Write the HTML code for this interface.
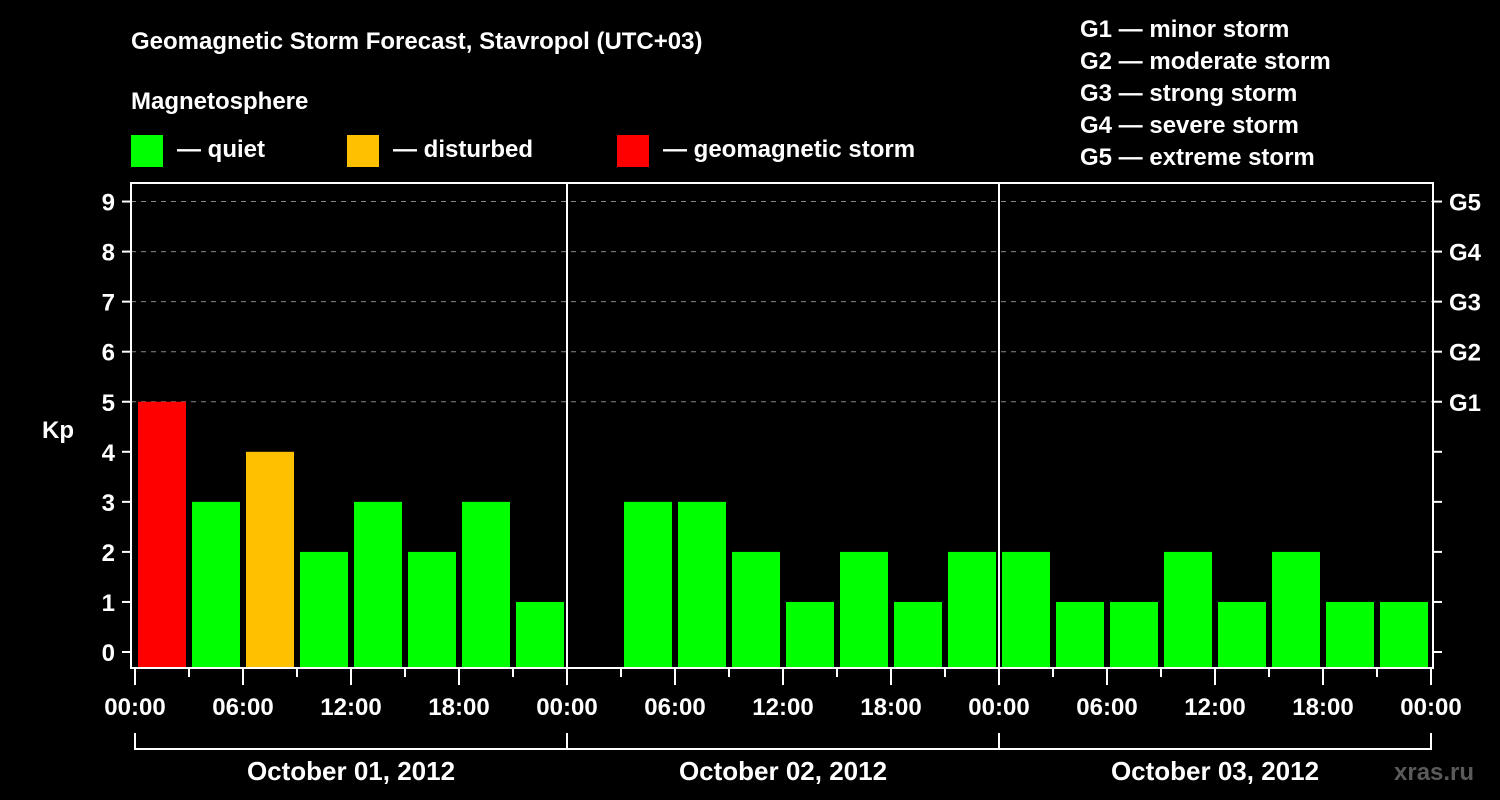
<!DOCTYPE html>
<html><head><meta charset="utf-8"><style>
html,body{margin:0;padding:0;background:#000;width:1500px;height:800px;overflow:hidden}
svg text{font-family:"Liberation Sans",Arial,sans-serif;font-weight:bold;fill:#fff}
</style></head><body>
<svg id="chart" width="1500" height="800" viewBox="0 0 1500 800">
<text x="131" y="49" font-size="24">Geomagnetic Storm Forecast, Stavropol (UTC+03)</text>
<text x="131" y="109" font-size="24">Magnetosphere</text>
<g>
<rect x="131" y="135" width="32" height="32" fill="#00ff00"/>
<text x="177" y="157" font-size="24">— quiet</text>
<rect x="347" y="135" width="32" height="32" fill="#ffc000"/>
<text x="393" y="157" font-size="24">— disturbed</text>
<rect x="617" y="135" width="32" height="32" fill="#ff0000"/>
<text x="663" y="157" font-size="24">— geomagnetic storm</text>
</g>
<g font-size="24">
<text x="1080" y="37">G1 — minor storm</text>
<text x="1080" y="69">G2 — moderate storm</text>
<text x="1080" y="101">G3 — strong storm</text>
<text x="1080" y="133">G4 — severe storm</text>
<text x="1080" y="165">G5 — extreme storm</text>
</g>
<text x="42" y="438" font-size="24">Kp</text>
<g id="grid"></g><g id="bars"></g><g id="axes"></g>
<text x="1394" y="780" font-size="24" fill="#555" style="fill:#5a5a5a">xras.ru</text>
</svg>
<script>
const days = ["October 01, 2012","October 02, 2012","October 03, 2012"];
const kpDay1 = [5,3,4,2,3,2,3,1];
const kpDay2 = [0,3,3,2,1,2,1,2];
const kpDay3 = [2,1,1,2,1,2,1,1];
const yTicks = [0,1,2,3,4,5,6,7,8,9];
const gLabels = ["G1","G2","G3","G4","G5"];
const xTickLabels = ["00:00","06:00","12:00","18:00"];

const NS="http://www.w3.org/2000/svg";
const L=131,R=1433,T=183,B=668,X0=135,PXH=18;
const yS=v=>652-v*50.05;
const xS=h=>X0+h*PXH;
function mk(tag,attrs,parent,txt){const e=document.createElementNS(NS,tag);for(const k in attrs)e.setAttribute(k,attrs[k]);if(txt!==undefined)e.textContent=txt;parent.appendChild(e);return e;}
const grid=document.getElementById('grid'),bars=document.getElementById('bars'),axes=document.getElementById('axes');
const col=v=>v>=5?"#ff0000":(v>=4?"#ffc000":"#00ff00");
[kpDay1,kpDay2,kpDay3].forEach((arr,d)=>{
  arr.forEach((v,i)=>{
    if(v<=0)return;
    const h=d*24+i*3;
    const r=mk('rect',{x:xS(h)+3,y:yS(v),width:48,height:B-yS(v),fill:col(v)},bars);
    
    
  });
});
yTicks.forEach(v=>{
  const y=yS(v);
  if(v>=5){const g=mk('line',{x1:L,x2:R,y1:y,y2:y,stroke:'#888','stroke-width':1,'stroke-dasharray':'5,5'},grid);
    
    }
  mk('line',{x1:122,x2:L,y1:y,y2:y,stroke:'#fff','stroke-width':2},axes);
  mk('line',{x1:R,x2:1442,y1:y,y2:y,stroke:'#fff','stroke-width':2},axes);
  const t=mk('text',{x:115,y:y+9,'font-size':24,'text-anchor':'end'},axes,String(v));
  
  
  if(v>=5){const g=mk('text',{x:1449,y:y+9,'font-size':24},axes,gLabels[v-5]);
    
    }
});
const fr=mk('rect',{x:L,y:T,width:R-L,height:B-T,fill:'none',stroke:'#fff','stroke-width':2},axes);


for(let h=0;h<=72;h+=3){
  const x=xS(h);
  const major=h%6===0;
  mk('line',{x1:x,x2:x,y1:B,y2:major?685:677,stroke:'#fff','stroke-width':2},axes);
  if(major){const t=mk('text',{x:x,y:715,'font-size':24,'text-anchor':'middle'},axes,xTickLabels[(h%24)/6]);
    
    }
}
days.forEach((d,i)=>{
  const x1=xS(i*24),x2=xS(i*24+24);
  if(i>0)mk('line',{x1:x1,x2:x1,y1:T,y2:B,stroke:'#fff','stroke-width':2},axes);
  mk('line',{x1:x1,x2:x1,y1:733,y2:750,stroke:'#fff','stroke-width':2},axes);
  mk('line',{x1:x1,x2:x2,y1:749,y2:749,stroke:'#fff','stroke-width':2},axes);
  const t=mk('text',{x:(x1+x2)/2,y:780,'font-size':26,'text-anchor':'middle'},axes,d);
  
  
});
mk('line',{x1:xS(72),x2:xS(72),y1:733,y2:750,stroke:'#fff','stroke-width':2},axes);
</script>
</body></html>
